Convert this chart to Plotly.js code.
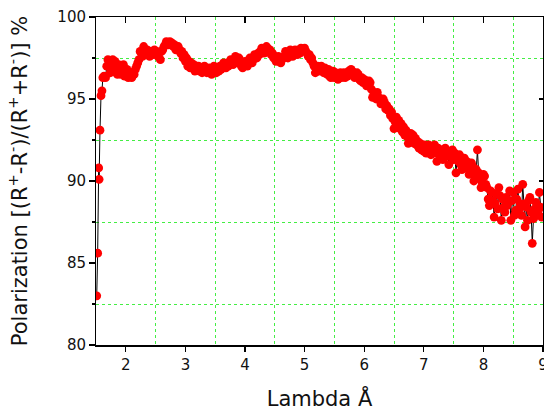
<!DOCTYPE html>
<html>
<head>
<meta charset="utf-8">
<script src="https://cdn.plot.ly/plotly-3.0.1.min.js"></script>
<style>html,body{margin:0;padding:0;background:#fff;}#chart{width:544px;height:411px;}</style>
</head>
<body>
<div id="chart"></div>
<script>
// Wavelength (Å)
var lambda = [
  1.512, 1.528, 1.545, 1.552, 1.567, 1.584, 1.600, 1.615, 1.635, 1.660, 1.680, 1.700,
  1.72, 1.74, 1.76, 1.78, 1.80, 1.82, 1.84, 1.86, 1.88, 1.90,
  1.92, 1.94, 1.96, 1.98, 2.00, 2.02, 2.04, 2.06, 2.08, 2.10,
  2.12, 2.14, 2.16, 2.18, 2.20, 2.22, 2.24, 2.26, 2.28, 2.30,
  2.32, 2.34, 2.36, 2.38, 2.40, 2.42, 2.44, 2.46, 2.48, 2.50,
  2.52, 2.54, 2.56, 2.58, 2.60, 2.62, 2.64, 2.66, 2.68, 2.70,
  2.72, 2.74, 2.76, 2.78, 2.80, 2.82, 2.84, 2.86, 2.88, 2.90,
  2.92, 2.94, 2.96, 2.98, 3.00, 3.02, 3.04, 3.06, 3.08, 3.10,
  3.12, 3.14, 3.16, 3.18, 3.20, 3.22, 3.24, 3.26, 3.28, 3.30,
  3.32, 3.34, 3.36, 3.38, 3.40, 3.42, 3.44, 3.46, 3.48, 3.50,
  3.52, 3.54, 3.56, 3.58, 3.60, 3.62, 3.64, 3.66, 3.68, 3.70,
  3.72, 3.74, 3.76, 3.78, 3.80, 3.82, 3.84, 3.86, 3.88, 3.90,
  3.92, 3.94, 3.96, 3.98, 4.00, 4.02, 4.04, 4.06, 4.08, 4.10,
  4.12, 4.14, 4.16, 4.18, 4.20, 4.22, 4.24, 4.26, 4.28, 4.30,
  4.32, 4.34, 4.36, 4.38, 4.40, 4.42, 4.44, 4.46, 4.48, 4.50,
  4.52, 4.54, 4.56, 4.58, 4.60, 4.62, 4.64, 4.66, 4.68, 4.70,
  4.72, 4.74, 4.76, 4.78, 4.80, 4.82, 4.84, 4.86, 4.88, 4.90,
  4.92, 4.94, 4.96, 4.98, 5.00, 5.02, 5.04, 5.06, 5.08, 5.10,
  5.12, 5.14, 5.16, 5.18, 5.20, 5.22, 5.24, 5.26, 5.28, 5.30,
  5.32, 5.34, 5.36, 5.38, 5.40, 5.42, 5.44, 5.46, 5.48, 5.50,
  5.52, 5.54, 5.56, 5.58, 5.60, 5.62, 5.64, 5.66, 5.68, 5.70,
  5.72, 5.74, 5.76, 5.78, 5.80, 5.82, 5.84, 5.86, 5.88, 5.90,
  5.92, 5.94, 5.96, 5.98, 6.00, 6.02, 6.04, 6.06, 6.08, 6.10,
  6.12, 6.14, 6.16, 6.18, 6.20, 6.22, 6.24, 6.26, 6.28, 6.30,
  6.32, 6.34, 6.36, 6.38, 6.40, 6.42, 6.44, 6.46, 6.48, 6.50,
  6.52, 6.54, 6.56, 6.58, 6.60, 6.62, 6.64, 6.66, 6.68, 6.70,
  6.72, 6.74, 6.76, 6.78, 6.80, 6.82, 6.84, 6.86, 6.88, 6.90,
  6.92, 6.94, 6.96, 6.98, 7.00, 7.02, 7.04, 7.06, 7.08, 7.10,
  7.12, 7.14, 7.16, 7.18,
  7.20, 7.22, 7.24, 7.26, 7.28, 7.30, 7.32, 7.34, 7.36, 7.38,
  7.40, 7.42, 7.44, 7.46, 7.48, 7.50, 7.52, 7.54, 7.56, 7.58,
  7.60, 7.62, 7.64, 7.66, 7.68, 7.70, 7.72, 7.74, 7.76, 7.78,
  7.80, 7.82, 7.84, 7.86, 7.88, 7.90, 7.92, 7.94, 7.96, 7.98,
  8.00, 8.02, 8.04, 8.06, 8.08, 8.10, 8.12, 8.14, 8.16, 8.18,
  8.20, 8.22, 8.24, 8.26, 8.28, 8.30, 8.32, 8.34, 8.36, 8.38,
  8.40, 8.42, 8.44, 8.46, 8.48, 8.50, 8.52, 8.54, 8.56, 8.58,
  8.60, 8.62, 8.64, 8.66, 8.68, 8.70, 8.72, 8.74, 8.76, 8.78,
  8.80, 8.82, 8.84, 8.86, 8.88, 8.90, 8.92, 8.94, 8.96, 8.98
];
// Polarization (%)
var polarization = [
  83.0, 85.6, 90.8, 90.1, 93.1, 95.2, 95.5, 96.3, 96.4, 96.3, 97.0, 97.4,
  97.1, 96.6, 97.2, 97.4, 96.9, 97.3, 96.6, 96.5, 97.1, 97.0,
  96.5, 96.7, 97.1, 96.4, 96.6, 96.8, 96.3, 96.6, 96.4, 96.3,
  96.6, 96.5, 96.8, 97.0, 97.2, 97.4, 97.9, 97.8, 97.6, 98.2,
  97.8, 97.9, 98.0, 97.8, 97.6, 97.9, 97.8, 97.7, 98.0, 97.8,
  97.9, 97.6, 97.8, 97.4, 97.9, 98.0, 98.2, 98.3, 98.5, 98.4,
  98.3, 98.5, 98.3, 98.4, 98.2, 98.3, 98.0, 98.1, 98.2, 98.0,
  97.8, 97.9, 97.5, 97.7, 97.3, 97.5, 97.0, 97.3, 96.9, 97.2,
  96.9, 97.1, 96.7, 97.0, 96.8, 97.0, 96.7, 96.9, 96.6, 96.9,
  97.0, 96.8, 96.6, 96.8, 96.9, 96.7, 96.5, 96.8, 97.0, 96.7,
  96.6, 96.9, 96.7, 97.0, 96.8, 96.9, 97.2, 97.1, 96.9, 97.2,
  97.0, 97.1, 97.4, 97.3, 97.1, 97.4, 97.6, 97.3, 97.2, 97.5,
  97.3, 97.0, 96.9, 97.1, 97.3, 97.2, 97.0, 97.3, 97.5, 97.3,
  97.2, 97.4, 97.7, 97.6, 97.5, 97.8, 97.7, 97.9, 98.1, 98.0,
  97.8, 98.1, 98.2, 98.1, 97.9, 98.0, 97.7, 97.8, 97.5, 97.6,
  97.3, 97.4, 97.6, 97.3, 97.2, 97.4, 97.5, 97.6, 97.9, 97.7,
  97.5, 97.8, 98.0, 97.8, 97.6, 97.9, 98.0, 97.9, 97.7, 98.0,
  97.8, 98.1, 97.9, 98.0, 98.1, 97.9, 97.8, 97.6, 97.7, 97.4,
  97.5, 97.2, 97.0, 96.6, 96.8, 97.0, 96.7, 96.9, 97.0, 96.8,
  96.6, 96.9, 96.7, 96.5, 96.8, 96.4, 96.3, 96.6, 96.7, 96.3,
  96.6, 96.5, 96.2, 96.4, 96.6, 96.3, 96.5, 96.6, 96.3, 96.5,
  96.4, 96.7, 96.5, 96.8, 96.7, 96.6, 96.3, 96.4, 96.6, 96.5,
  96.2, 96.1, 96.3, 96.0, 96.2, 96.1, 95.8, 95.9, 96.1, 96.0,
  95.6, 95.1, 95.4, 95.3, 95.0, 95.4, 95.1, 95.0, 94.7, 94.8,
  95.0, 94.8, 94.4, 94.6, 94.3, 94.4, 94.0, 94.2, 93.8, 93.2,
  93.6, 93.9, 93.5, 93.7, 93.2, 93.5, 93.0, 93.3, 92.8, 93.1,
  92.7, 92.3, 92.6, 92.9, 92.5, 92.8, 92.3, 92.6, 92.2, 92.4,
  92.0, 92.3, 91.9, 92.1, 91.8, 92.2, 91.7, 91.9, 92.2, 91.8,
  91.6, 92.1, 91.7, 92.2,
  91.9, 91.2, 92.0, 91.6, 91.9, 91.8, 91.3, 91.4, 92.0, 91.7,
  91.8, 91.0, 91.5, 91.6, 91.9, 91.3, 91.7, 90.5, 91.4, 91.2,
  91.6, 91.0, 90.7, 91.1, 91.4, 90.8, 91.2, 91.0, 90.4, 90.6,
  91.1, 90.9, 90.0, 90.3, 90.7, 91.9, 90.5, 90.2, 89.6, 89.9,
  90.4, 90.3, 89.8, 89.6, 88.9, 88.5, 89.4, 89.3, 88.8, 87.8,
  88.6, 89.2, 88.3, 89.6, 89.1, 87.6, 88.9, 88.4, 88.1, 89.0,
  88.5, 88.7, 89.4, 87.6, 88.8, 89.3, 87.9, 88.2, 88.9, 89.5,
  88.3, 88.6, 87.9, 89.8, 88.6, 87.2, 88.4, 87.6, 88.8, 89.0,
  88.1, 86.2, 87.7, 88.3, 88.7, 87.9, 88.2, 89.3, 88.4, 87.8
];
var xTickVals = [2, 3, 4, 5, 6, 7, 8, 9];
var xGridVals = [2.5, 3.5, 4.5, 5.5, 6.5, 7.5, 8.5];
var yTickVals = [80, 85, 90, 95, 100];
var yGridVals = [82.5, 87.5, 92.5, 97.5];

var fontFam = 'DejaVu Sans, Verdana, sans-serif';
var gridGreen = '#44ee44';
var xRange = [1.5, 9];
var yRange = [80, 100];

var trace = {
  x: lambda, y: polarization, type: 'scatter', mode: 'lines+markers',
  line: {color: '#000000', width: 1},
  marker: {color: '#ff0000', size: 8.8, line: {width: 0}},
  showlegend: false, xaxis: 'x', yaxis: 'y'
};
// invisible carriers so the overlay (labelled and mirrored) axes are drawn
var carrierA = {x: lambda, y: polarization, type: 'scatter', mode: 'markers',
  marker: {opacity: 0, size: 1}, hoverinfo: 'skip', showlegend: false, xaxis: 'x2', yaxis: 'y2'};
var carrierB = {x: lambda, y: polarization, type: 'scatter', mode: 'markers',
  marker: {opacity: 0, size: 1}, hoverinfo: 'skip', showlegend: false, xaxis: 'x3', yaxis: 'y3'};

var layout = {
  width: 544, height: 411,
  margin: {l: 96, r: 1, t: 17, b: 66},
  paper_bgcolor: '#ffffff', plot_bgcolor: '#ffffff',
  font: {family: fontFam, size: 15, color: '#111'},
  xaxis: {
    range: xRange, tickvals: xGridVals, showticklabels: false, ticks: '',
    showline: true, linecolor: '#000', linewidth: 1.5,
    showgrid: true, gridcolor: gridGreen, griddash: 'dot', gridwidth: 1, zeroline: false
  },
  yaxis: {
    range: yRange, tickvals: yGridVals, showticklabels: false,
    ticks: 'outside', ticklen: 3, tickwidth: 1.2, tickcolor: '#000',
    showline: true, linecolor: '#000', linewidth: 1.5,
    showgrid: true, gridcolor: gridGreen, griddash: 'dot', gridwidth: 1, zeroline: false
  },
  xaxis2: {
    overlaying: 'x', side: 'bottom', anchor: 'y2', range: xRange,
    tickvals: xTickVals, ticktext: xTickVals.map(String),
    ticks: 'outside', ticklen: 6, tickwidth: 1.2, tickcolor: '#000',
    showline: false, showgrid: false, zeroline: false,
    ticklabeloverflow: 'allow',
    tickfont: {size: 15, family: fontFam, color: '#111'},
    title: {text: 'Lambda Å', font: {size: 21, family: fontFam, color: '#111'}, standoff: 18}
  },
  yaxis2: {
    overlaying: 'y', side: 'left', anchor: 'x2', range: yRange,
    tickvals: yTickVals, ticktext: yTickVals.map(String),
    ticks: 'outside', ticklen: 6, tickwidth: 1.2, tickcolor: '#000',
    showline: false, showgrid: false, zeroline: false,
    tickfont: {size: 15, family: fontFam, color: '#111'},
    title: {text: 'Polarization [(R<sup>+</sup>-R<sup>-</sup>)/(R<sup>+</sup>+R<sup>-</sup>)] %', font: {size: 21, family: fontFam, color: '#111'}, standoff: 24}
  },
  xaxis3: {
    overlaying: 'x', side: 'top', anchor: 'y3', range: xRange, tickvals: xTickVals,
    ticks: 'inside', ticklen: 6, tickwidth: 1.2, tickcolor: '#000',
    showticklabels: false, showline: true, linecolor: '#000', linewidth: 1.5,
    showgrid: false, zeroline: false
  },
  yaxis3: {
    overlaying: 'y', side: 'right', anchor: 'x3', range: yRange, tickvals: yTickVals,
    ticks: 'inside', ticklen: 4, tickwidth: 1.2, tickcolor: '#000',
    showticklabels: false, showline: true, linecolor: '#000', linewidth: 1.5,
    showgrid: false, zeroline: false
  }
};

Plotly.newPlot('chart', [trace, carrierA, carrierB], layout, {staticPlot: true, displayModeBar: false});
</script>
</body>
</html>
